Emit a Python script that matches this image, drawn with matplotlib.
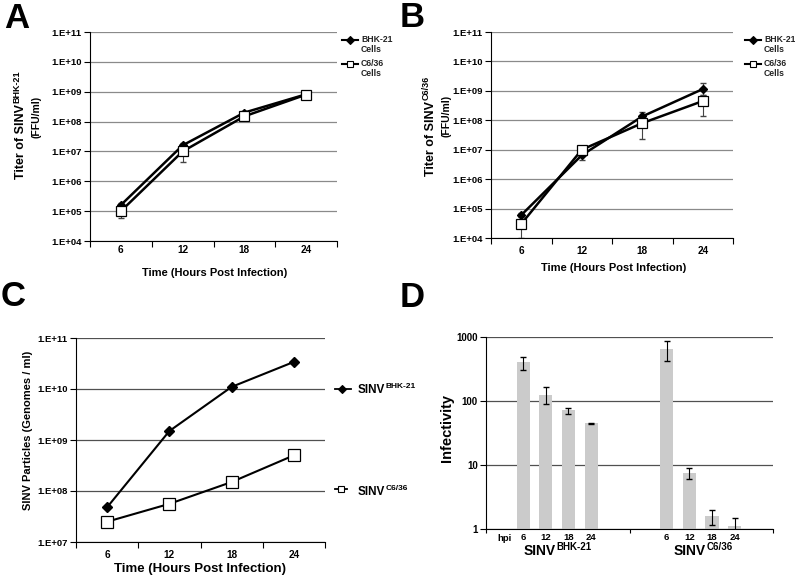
import matplotlib
matplotlib.use("Agg")
import matplotlib.pyplot as plt
import numpy as np

plt.rcParams["font.family"] = ["Liberation Sans", "DejaVu Sans"]
plt.rcParams["font.weight"] = "bold"

W, H = 795, 582

# === DATA ===
hours = ["6", "12", "18", "24"]

# A: titer of SINV(BHK-21)
a_bhk = [1.6e5, 1.6e7, 2.0e8, 8.2e8]
a_bhk_lo = [1.3e5, 1.3e7, 1.7e8, 7.0e8]
a_bhk_hi = [1.9e5, 1.9e7, 2.3e8, 9.5e8]
a_c636 = [1.0e5, 1.0e7, 1.5e8, 8.0e8]
a_c636_lo = [5.8e4, 4.5e6, 1.1e8, 6.0e8]
a_c636_hi = [1.3e5, 1.3e7, 1.9e8, 9.5e8]

# B: titer of SINV(C6/36)
b_bhk = [6.0e4, 6.5e6, 1.35e8, 1.15e9]
b_bhk_lo = [5.0e4, 4.5e6, 1.0e8, 7.0e8]
b_bhk_hi = [7.0e4, 8.5e6, 1.9e8, 1.9e9]
b_c636 = [3.0e4, 1.0e7, 8.0e7, 4.5e8]
b_c636_lo = [1.0e4, 8.0e6, 2.3e7, 1.4e8]
b_c636_hi = [4.0e4, 1.3e7, 1.2e8, 7.5e8]

# C: genomes / ml
c_bhk = [4.8e7, 1.5e9, 1.1e10, 3.4e10]
c_c636 = [2.5e7, 5.6e7, 1.5e8, 5.0e8]

# D: infectivity
d_bhk = [410, 126, 72, 45]
d_bhk_lo = [300, 91, 63, 44]
d_bhk_hi = [490, 165, 78, 46]
d_c636 = [650, 7.4, 1.6, 1.13]
d_c636_lo = [415, 6.1, 1.15, 0.8]
d_c636_hi = [860, 8.9, 2.0, 1.5]


def fx(px):
    return px / W


def fy(py):
    return 1 - py / H


def sup_text(fig, x, y, main, sup, size, sup_size, rotation=0, ha="center"):
    """Text with superscript. x,y in pixels from top-left: for rotation 0 y is the
    baseline; for rotation 90 x is the baseline and y is the centre."""
    r = fig.canvas.get_renderer()
    kw = dict(fontweight="bold", rotation=rotation, rotation_mode="anchor",
              ha="left", va="baseline", transform=fig.transFigure)
    t1 = fig.text(0, 0, main, fontsize=size, **kw)
    t2 = fig.text(0, 0, sup, fontsize=sup_size, **kw)
    e1 = t1.get_window_extent(r)
    e2 = t2.get_window_extent(r)
    rise = size * 0.55
    if rotation == 0:
        l1, l2 = e1.width, e2.width
        s = x - (l1 + l2) / 2 if ha == "center" else x
        t1.set_position((fx(s), fy(y)))
        t2.set_position((fx(s + l1 + 0.5), fy(y - rise)))
    else:
        l1, l2 = e1.height, e2.height
        s = y + (l1 + l2) / 2
        t1.set_position((fx(x), fy(s)))
        t2.set_position((fx(x - rise), fy(s - l1 - 0.5)))


def style_log(ax, lo, hi, gridcolor, xpad):
    ax.set_yscale("log")
    ax.set_ylim(lo, hi)
    ticks = 10.0 ** np.arange(np.log10(lo), np.log10(hi) + 1)
    ax.set_yticks(ticks)
    ax.set_yticklabels([f"1.E+{int(round(np.log10(t))):02d}" for t in ticks])
    ax.yaxis.set_minor_locator(matplotlib.ticker.NullLocator())
    ax.tick_params(axis="y", length=4, width=0.8, pad=2, labelsize=6.8)
    ax.set_axisbelow(True)
    ax.yaxis.grid(True, color=gridcolor, lw=0.9)
    for s in ["top", "right"]:
        ax.spines[s].set_visible(False)
    ax.set_xlim(0.5, 4.5)
    ax.set_xticks(np.arange(1, 5))
    ax.set_xticklabels(hours)
    ax.set_xticks(np.arange(0.5, 5), minor=True)
    ax.tick_params(axis="x", which="major", length=0, pad=xpad, labelsize=7.2)
    ax.tick_params(axis="x", which="minor", length=4, width=0.8)


def growth_panel(ax, bhk, bhk_lo, bhk_hi, c636, c636_lo, c636_hi):
    x = np.arange(1, 5)
    ax.errorbar(x, c636, yerr=[np.array(c636) - c636_lo, np.array(c636_hi) - c636],
                fmt="none", ecolor="#444444", elinewidth=0.8, capsize=2, zorder=2)
    ax.errorbar(x, bhk, yerr=[np.array(bhk) - bhk_lo, np.array(bhk_hi) - bhk],
                fmt="none", ecolor="#444444", elinewidth=0.8, capsize=2, zorder=2)
    ax.plot(x, bhk, color="black", lw=1.8, marker="D", ms=4.5, zorder=3)
    ax.plot(x, c636, color="black", lw=1.8, marker="s", ms=7,
            mfc="white", mec="black", mew=0.9, zorder=4)


def legend_ab(fig, x0):
    # line + marker + two-line label
    for y, m, mfc, ms, lab in [(40, "D", "black", 4, "BHK-21"), (64, "s", "white", 5, "C6/36")]:
        fig.add_artist(plt.Line2D([fx(x0), fx(x0 + 16)], [fy(y), fy(y)], color="black", lw=1.5))
        fig.add_artist(plt.Line2D([fx(x0 + 8)], [fy(y)], marker=m, ms=ms, mfc=mfc, mec="black",
                                  mew=0.8, color="black"))
        fig.text(fx(x0 + 19), fy(y), lab, fontsize=6.2, va="center", ha="left", color="#222222")
        fig.text(fx(x0 + 19), fy(y + 10), "Cells", fontsize=6.2, va="center", ha="left",
                 color="#222222")


fig = plt.figure(figsize=(W / 100, H / 100), dpi=100)

# --- A ---
axA = fig.add_axes([fx(90), fy(241), fx(337) - fx(90), fy(32) - fy(241)])
growth_panel(axA, a_bhk, a_bhk_lo, a_bhk_hi, a_c636, a_c636_lo, a_c636_hi)
style_log(axA, 1e4, 1e11, "#8a8a8a", 3)
legend_ab(fig, 342)
fig.text(fx(215), fy(273), "Time (Hours Post Infection)", fontsize=8, ha="center", va="center")
fig.text(fx(4), fy(28), "A", fontsize=25, ha="left", va="baseline")

# --- B ---
axB = fig.add_axes([fx(491), fy(238), fx(733) - fx(491), fy(32) - fy(238)])
growth_panel(axB, b_bhk, b_bhk_lo, b_bhk_hi, b_c636, b_c636_lo, b_c636_hi)
style_log(axB, 1e4, 1e11, "#8a8a8a", 6)
legend_ab(fig, 745)
fig.text(fx(614), fy(268), "Time (Hours Post Infection)", fontsize=8, ha="center", va="center")
fig.text(fx(400), fy(27), "B", fontsize=25, ha="left", va="baseline")

# --- C ---
axC = fig.add_axes([fx(76), fy(542), fx(325) - fx(76), fy(338) - fy(542)])
xc = np.arange(1, 5)
axC.plot(xc, c_bhk, color="black", lw=1.5, marker="D", ms=5, zorder=3)
axC.plot(xc, c_c636, color="black", lw=1.5, marker="s", ms=8, mfc="white", mec="black",
         mew=0.9, zorder=4)
style_log(axC, 1e7, 1e11, "#505050", 6)
fig.text(fx(200), fy(569), "Time (Hours Post Infection)", fontsize=9.5, ha="center", va="center")
fig.text(fx(1), fy(306), "C", fontsize=25, ha="left", va="baseline")
for y, m, mfc, ms, x1, xm in [(389, "D", "black", 4, 351, 342), (489, "s", "white", 5, 347, 341)]:
    fig.add_artist(plt.Line2D([fx(335), fx(x1)], [fy(y), fy(y)], color="black", lw=1.3))
    fig.add_artist(plt.Line2D([fx(xm)], [fy(y)], marker=m, ms=ms,
                              mfc=mfc, mec="black", mew=0.8))

# --- D ---
axD = fig.add_axes([fx(486), fy(529), fx(773) - fx(486), fy(337) - fy(529)])
grp = 6.35
pos_bhk = np.array([1.65, 2.65, 3.65, 4.65])
pos_c636 = pos_bhk + grp
for pos, v, lo, hi in [(pos_bhk, d_bhk, d_bhk_lo, d_bhk_hi), (pos_c636, d_c636, d_c636_lo, d_c636_hi)]:
    axD.bar(pos, v, width=0.58, color="#cbcbcb", zorder=2)
    axD.errorbar(pos, v, yerr=[np.array(v) - lo, np.array(hi) - v], fmt="none",
                 ecolor="black", elinewidth=0.8, capsize=2, zorder=3)
axD.set_yscale("log")
axD.set_ylim(1, 1000)
axD.set_yticks([1, 10, 100, 1000])
axD.set_yticklabels(["1", "10", "100", "1000"])
axD.yaxis.set_minor_locator(matplotlib.ticker.NullLocator())
axD.tick_params(axis="y", length=4, width=0.8, pad=2, labelsize=7)
axD.set_axisbelow(True)
axD.yaxis.grid(True, color="#505050", lw=0.9)
for s in ["top", "right"]:
    axD.spines[s].set_visible(False)
axD.set_xlim(0, 2 * grp)
axD.set_xticks(np.concatenate([pos_bhk, pos_c636]))
axD.set_xticklabels(hours + hours)
axD.set_xticks([0, grp, 2 * grp], minor=True)
axD.tick_params(axis="x", which="major", length=0, pad=3, labelsize=6.8)
axD.tick_params(axis="x", which="minor", length=3, width=0.8)
axD.text(0.84, -0.025, "hpi", transform=axD.get_xaxis_transform(), fontsize=6.8,
         ha="center", va="top")
fig.text(fx(400), fy(307), "D", fontsize=25, ha="left", va="baseline")

# --- y labels / superscript texts ---
sup_text(fig, 24, 125, "Titer of SINV", "BHK-21", 9, 6.5, rotation=90)
fig.text(fx(36), fy(117), "(FFU/ml)", fontsize=7.5, rotation=90, ha="center", va="center")
sup_text(fig, 434, 126, "Titer of SINV", "C6/36", 9, 6.5, rotation=90)
fig.text(fx(446), fy(116), "(FFU/ml)", fontsize=7.5, rotation=90, ha="center", va="center")
fig.text(fx(28), fy(430), "SINV Particles (Genomes / ml)", fontsize=8, rotation=90,
         ha="center", va="center")
fig.text(fx(447), fy(428), "Infectivity", fontsize=10.5, rotation=90, ha="center", va="center")
sup_text(fig, 358, 393, "SINV", "BHK-21", 8.5, 6, ha="left")
sup_text(fig, 358, 495, "SINV", "C6/36", 8.5, 6, ha="left")
sup_text(fig, 557, 555, "SINV", "BHK-21", 10, 7)
sup_text(fig, 703, 555, "SINV", "C6/36", 10, 7)

fig.savefig("out.png", dpi=100)
